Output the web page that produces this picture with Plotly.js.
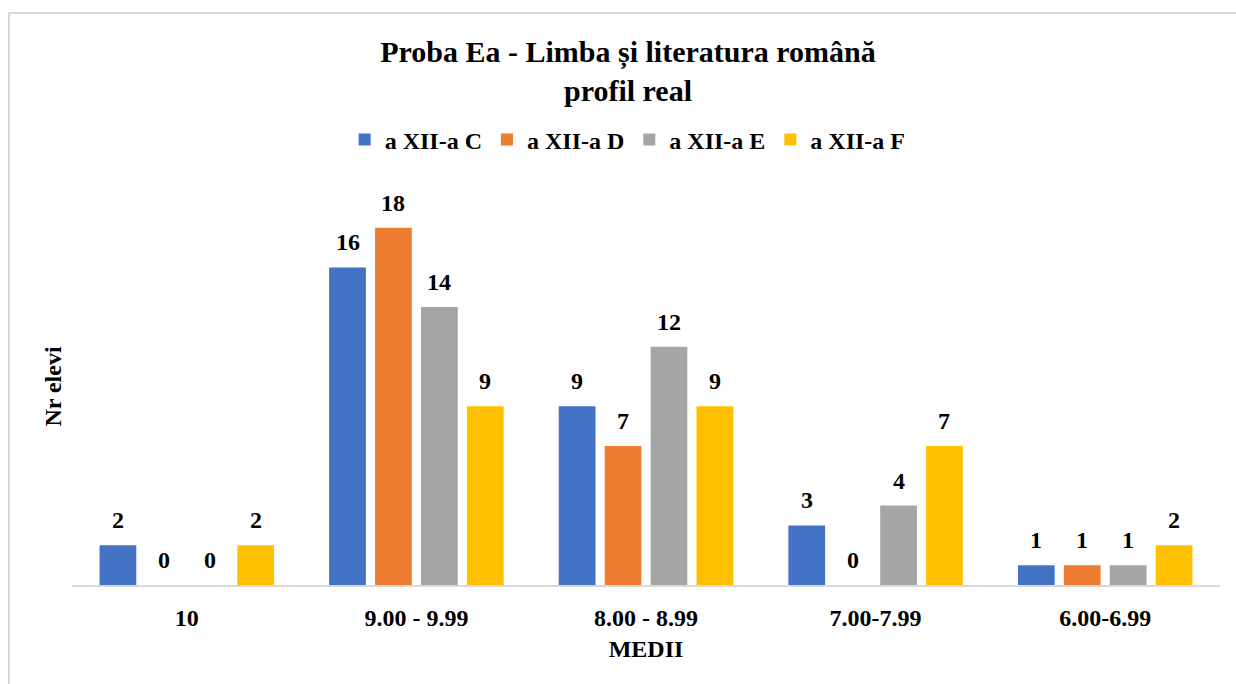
<!DOCTYPE html>
<html>
<head>
<meta charset="utf-8">
<script src="https://cdn.plot.ly/plotly-3.0.1.min.js"></script>
<style>
  html, body { margin: 0; padding: 0; background: #fff; }
  #wrap { position: relative; width: 1236px; height: 684px; overflow: hidden; }
  #chart { width: 1236px; height: 684px; }
  #frame { position: absolute; left: 8px; top: 12px; width: 1300px; height: 740px;
           border-left: 2px solid #d9d9d9; border-top: 2px solid #d9d9d9; pointer-events: none; box-sizing: border-box; }
</style>
</head>
<body>
<div id="wrap">
  <div id="chart"></div>
  <div id="frame"></div>
</div>
<script>
const categories = ["10", "9.00 - 9.99", "8.00 - 8.99", "7.00-7.99", "6.00-6.99"];
const seriesNames = ["a XII-a C", "a XII-a D", "a XII-a E", "a XII-a F"];
const valuesC = [2, 16, 9, 3, 1];
const valuesD = [0, 18, 7, 0, 1];
const valuesE = [0, 14, 12, 4, 1];
const valuesF = [2, 9, 9, 7, 2];
const colors = ["#4472C4", "#ED7D31", "#A5A5A5", "#FFC000"];

const allValues = [valuesC, valuesD, valuesE, valuesF];
const FONT = "Liberation Serif, Times New Roman, serif";
const BARGAP = 0.2;
const SMALL = 24;

const barTraces = allValues.map((vals, i) => ({
  type: "bar",
  name: seriesNames[i],
  x: categories,
  y: vals,
  marker: { color: colors[i] },
  hoverinfo: "skip"
}));

// value labels, placed at each bar's group slot through the axis scales
const slot = (1 - BARGAP) / allValues.length;
const annotations = [];
allValues.forEach((vals, j) => {
  vals.forEach((v, i) => {
    annotations.push({
      xref: "x", yref: "y",
      x: i + (j - (allValues.length - 1) / 2) * slot,
      y: v,
      text: String(v),
      showarrow: false,
      xanchor: "center", yanchor: "bottom",
      yshift: 10,
      font: { family: FONT, size: SMALL, color: "#000", weight: "bold" }
    });
  });
});

const layout = {
  width: 1236,
  height: 684,
  margin: { l: 72, r: 16, t: 188, b: 99 },
  paper_bgcolor: "#fff",
  plot_bgcolor: "#fff",
  font: { family: FONT, size: SMALL, color: "#000", weight: "bold" },
  barmode: "group",
  bargap: BARGAP,
  bargroupgap: 0.2,
  title: {
    text: "Proba Ea - Limba și literatura română<br>profil real",
    font: { family: FONT, size: 30, color: "#000", weight: "bold" },
    xref: "container", x: 628 / 1236, xanchor: "center",
    yref: "container", y: 1 - 62 / 684, yanchor: "top"
  },
  showlegend: true,
  legend: {
    orientation: "h",
    x: 0.484, xanchor: "center",
    y: 1.121, yanchor: "middle",
    font: { family: FONT, size: SMALL, color: "#000", weight: "bold" },
    traceorder: "normal",
    itemwidth: 30
  },
  annotations: annotations,
  xaxis: {
    type: "category",
    showline: true,
    linecolor: "#d9d9d9",
    linewidth: 2,
    showgrid: false,
    zeroline: false,
    ticks: "",
    tickangle: 0,
    ticklabelstandoff: 10,
    tickfont: { family: FONT, size: SMALL, color: "#000", weight: "bold" },
    title: { text: "MEDII", font: { family: FONT, size: SMALL, color: "#000", weight: "bold" }, standoff: 10 },
    automargin: false
  },
  yaxis: {
    range: [0, 20],
    showline: false,
    showgrid: false,
    zeroline: false,
    showticklabels: false,
    ticks: "",
    title: { text: "Nr elevi", font: { family: FONT, size: SMALL, color: "#000", weight: "bold" }, standoff: 2 },
    automargin: false
  }
};

Plotly.newPlot("chart", barTraces, layout, { displayModeBar: false, staticPlot: true });
</script>
</body>
</html>
